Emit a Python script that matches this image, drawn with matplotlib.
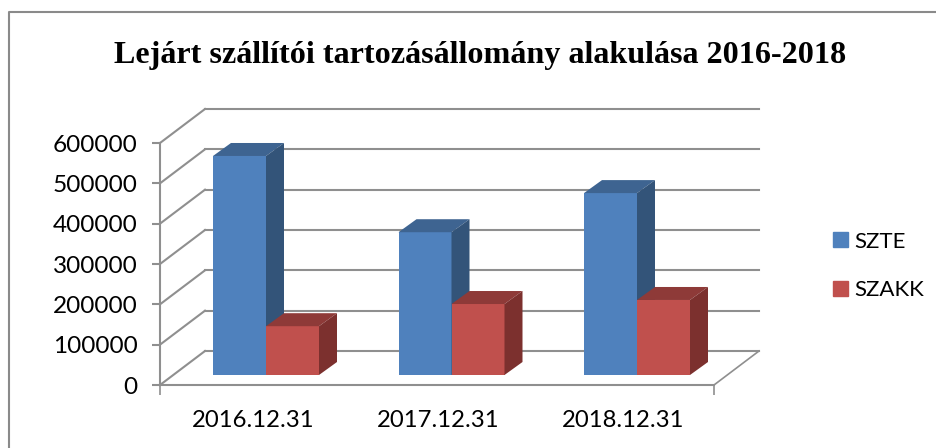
import matplotlib
matplotlib.use("Agg")
import matplotlib.pyplot as plt
from matplotlib.lines import Line2D
from matplotlib.patches import Patch

W, H = 936, 448

title = "Lejárt szállítói tartozásállomány alakulása 2016-2018"
dates = ["2016.12.31", "2017.12.31", "2018.12.31"]
szte = [543000, 354000, 451000]
szakk = [121000, 176000, 186000]
y_ticks = [0, 100000, 200000, 300000, 400000, 500000, 600000]

grid_col = "#8f8f8f"
szte_cols = ("#4f81bd", "#3e6491", "#335479")
szakk_cols = ("#c0504d", "#8e3a38", "#7c302e")

fig = plt.figure(figsize=(W / 100, H / 100), dpi=100)
ax = fig.add_axes([160 / W, (H - 385) / H, 554 / W, 242 / H])
ax.set_xlim(0, len(dates))
ax.set_ylim(0, max(y_ticks))
ax.patch.set_visible(False)

# pixel to data factors, the 3d look is only skewed polygons
px_x = len(dates) / 554
px_y = max(y_ticks) / 242


def offs(dx, dy):
    return dx * px_x, dy * px_y


# back wall + side wall + floor
bx, by = offs(45, 34)
for v in y_ticks:
    ax.plot([0, bx], [v, v + by], color=grid_col, lw=1.5, clip_on=False, zorder=1)
    ax.plot([bx, len(dates) + bx], [v + by, v + by], color=grid_col, lw=1.5, clip_on=False, zorder=1)
ax.plot([len(dates), len(dates) + bx], [0, by], color=grid_col, lw=1.2, clip_on=False, zorder=1)


def bar3d(x0, width, val, cols, z):
    # bar stands a bit inside the floor
    sx, sy = offs(13, 10)
    dx, dy = offs(18, 13)
    x0 = x0 + sx
    x1 = x0 + width
    top = val + sy
    ax.fill([x0, x1, x1, x0], [sy, sy, top, top], color=cols[0], lw=0, clip_on=False, zorder=z)
    ax.fill([x0, x1, x1 + dx, x0 + dx], [top, top, top + dy, top + dy], color=cols[1], lw=0, clip_on=False, zorder=z)
    ax.fill([x1, x1 + dx, x1 + dx, x1], [sy, sy + dy, top + dy, top], color=cols[2], lw=0, clip_on=False, zorder=z)


bar_w = 53 * px_x
gap = 40 * px_x
slot = 185.5 * px_x
for i in range(len(dates)):
    bar3d(i * slot + gap, bar_w, szte[i], szte_cols, 3 + i)
    bar3d(i * slot + gap + bar_w, bar_w, szakk[i], szakk_cols, 3.5 + i)

for s in ["top", "right"]:
    ax.spines[s].set_visible(False)
for s in ["left", "bottom"]:
    ax.spines[s].set_color(grid_col)
    ax.spines[s].set_linewidth(1.5)
    ax.spines[s].set_zorder(2)

ax.set_yticks(y_ticks)
ax.set_yticklabels([str(v) for v in y_ticks], family="Lato", fontsize=17.6, color="black")
ax.set_xticks([0, len(dates)])
ax.set_xticklabels([])
ax.tick_params(axis="y", length=6, width=1.5, color=grid_col, pad=10)
ax.tick_params(axis="x", length=7, width=1.2, color=grid_col)
for i, d in enumerate(dates):
    ax.annotate(d, (i + 0.5, 0), xytext=(1, -35), textcoords="offset pixels", ha="center", va="center",
                family="Lato", fontsize=17.2, annotation_clip=False)

fig.text(480 / W, 1 - 55 / H, title, family="Liberation Serif", weight="bold", fontsize=23.1, ha="center", va="center")

handles = [Patch(color=szte_cols[0], label="SZTE"), Patch(color=szakk_cols[0], label="SZAKK")]
fig.legend(handles=handles, loc="center left", bbox_to_anchor=(833 / W, 1 - 266 / H), frameon=False,
           prop={"family": "Lato", "size": 16}, handlelength=0.68, handleheight=0.68, handletextpad=0.3,
           labelspacing=1.3, borderpad=0, borderaxespad=0)

# chart frame is cut at the right and bottom
fig.add_artist(Line2D([9 / W, 9 / W, 1], [0, 1 - 12 / H, 1 - 12 / H], color="#8a8a8a", lw=1.5))

fig.savefig("out.png", dpi=100)
